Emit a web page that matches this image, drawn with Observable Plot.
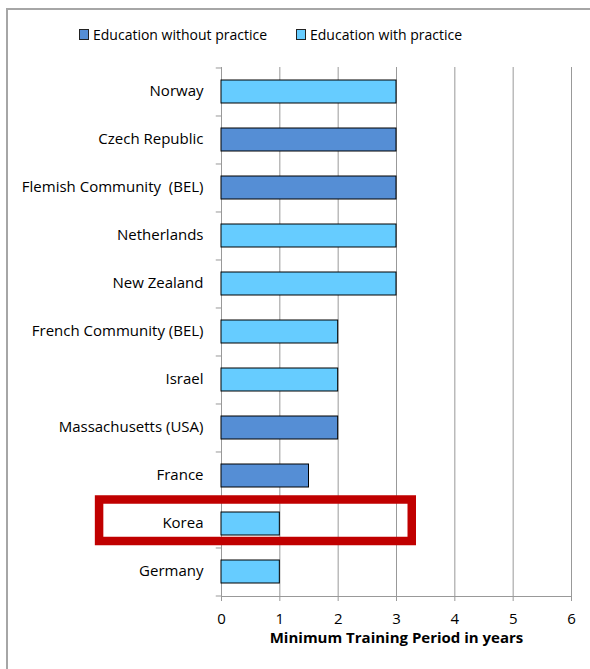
<!DOCTYPE html>
<html><head><meta charset="utf-8">
<script src="https://cdn.jsdelivr.net/npm/d3@7"></script>
<script src="https://cdn.jsdelivr.net/npm/@observablehq/plot@0.6"></script>
<style>
body{margin:0;background:#fff;font-family:"Open Sans",sans-serif;}
#wrap{position:relative;width:590px;height:669px;overflow:hidden;background:#fff;}
#chart{position:absolute;left:0;top:0;}
#frame{position:absolute;left:6px;top:8px;width:700px;height:800px;border-left:2px solid #a6a6a6;border-top:2px solid #a6a6a6;pointer-events:none;}
#legend{position:absolute;top:24px;left:0;width:590px;height:20px;font-size:14px;color:#000;}
.item{position:absolute;top:0;display:flex;align-items:center;height:20px;}
.sw{width:8px;height:9px;border:1px solid #222;margin-right:4px;}
</style></head>
<body>
<div id="wrap">
  <div id="chart"></div>
  <div id="legend"></div>
  <div id="frame"></div>
</div>
<script>
const countries = ["Norway","Czech Republic","Flemish Community  (BEL)","Netherlands","New Zealand","French Community (BEL)","Israel","Massachusetts (USA)","France","Korea","Germany"];
const values = [3,3,3,3,3,2,2,2,1.5,1,1];
const types = ["Education with practice","Education without practice","Education without practice","Education with practice","Education with practice","Education with practice","Education with practice","Education without practice","Education without practice","Education with practice","Education with practice"];
const seriesNames = ["Education without practice","Education with practice"];
const seriesColors = ["#558ED5","#66CCFF"];
const xTicks = [0,1,2,3,4,5,6];
const gridTicks = [1,2,3,4,5,6];
const axisTitle = "Minimum Training Period in years";
const highlight = ["Korea"];
const highlightExtent = [-2.09, 3.27];

const rows = countries.map((c,i)=>({country:c, value:values[i], type:types[i]}));

// legend
const leg = document.getElementById("legend");
const legLeft = [79, 296];
seriesNames.forEach((s,i)=>{
  const it = document.createElement("div");
  it.className = "item";
  it.style.left = legLeft[i] + "px";
  it.innerHTML = `<span class="sw" style="background:${seriesColors[i]}"></span><span>${s}</span>`;
  leg.appendChild(it);
});

const H = 669, mT = 67, mB = 73;
const padI = 0.52, padO = 0.27;
const step = (H - mT - mB) / (countries.length - padI + 2*padO);

const chart = Plot.plot({
  width: 590, height: H,
  marginTop: mT, marginBottom: mB, marginLeft: 221, marginRight: 19,
  style: {fontFamily: "Open Sans, sans-serif", fontSize: "15px", background: "transparent", color: "#000"},
  x: {domain: [0,6]},
  y: {domain: countries, paddingInner: padI, paddingOuter: padO},
  color: {domain: seriesNames, range: seriesColors},
  marks: [
    Plot.ruleX(gridTicks, {stroke: "#999", strokeWidth: 1}),
    Plot.frame({anchor: "left", stroke: "#999"}),
    Plot.frame({anchor: "bottom", stroke: "#999"}),
    Plot.ruleY(countries, {y: d => d, dy: -step/2, x1: -0.09, x2: 0, stroke: "#999"}),
    Plot.ruleY(countries.slice(-1), {y: d => d, dy: step/2, x1: -0.09, x2: 0, stroke: "#999"}),
    Plot.barX(rows, {y: "country", x: "value", fill: "type", stroke: "#000", strokeWidth: 1}),
    Plot.barX(highlight, {y: d => d, x1: highlightExtent[0], x2: highlightExtent[1], fill: "none", stroke: "#C00000", strokeWidth: 8.5, insetTop: -12.5, insetBottom: -6}),
    Plot.axisX({ticks: xTicks, tickFormat: d3.format("d"), tickSize: 5, tickPadding: 12, stroke: "#999", label: null, fontSize: 15}),
    Plot.axisY({tickSize: 0, tickPadding: 18, label: null, fontSize: 15, dy: -1}),
    Plot.text([axisTitle], {frameAnchor: "bottom", dy: 46, fontWeight: "bold", fontSize: 15})
  ]
});
document.getElementById("chart").appendChild(chart);
</script>
</body></html>
